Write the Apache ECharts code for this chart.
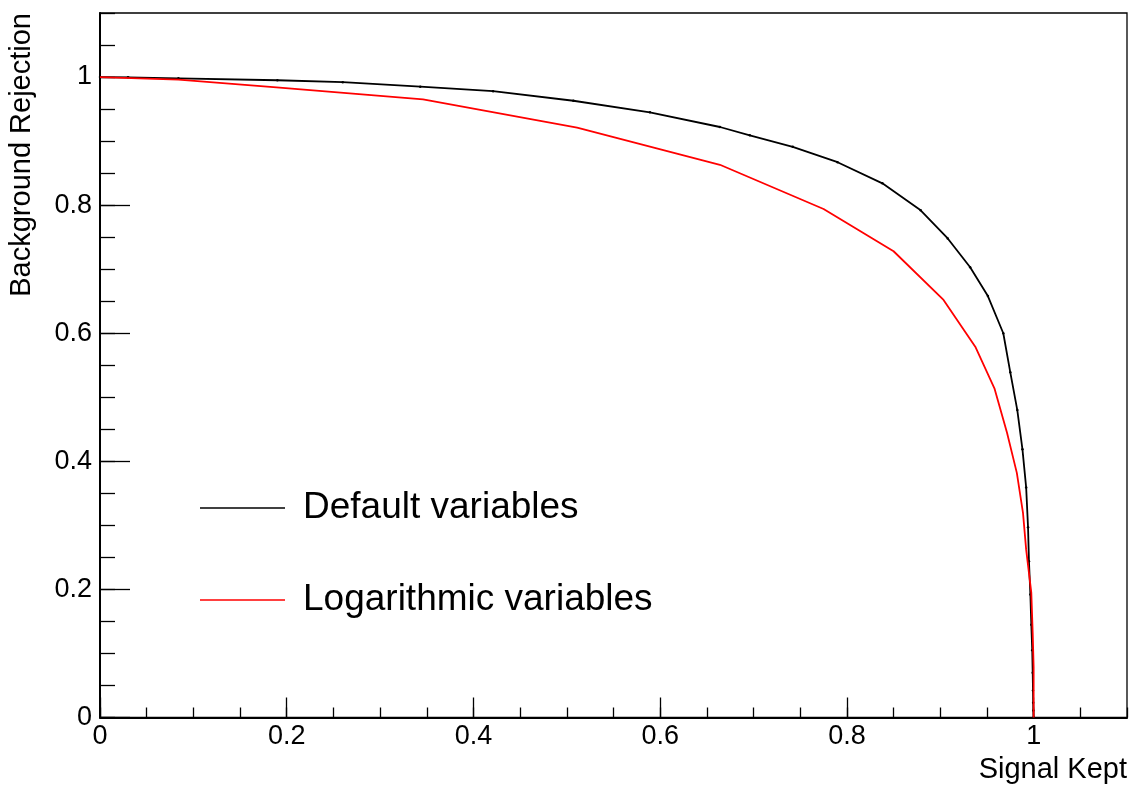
<!DOCTYPE html>
<html>
<head>
<meta charset="utf-8">
<title>Background Rejection vs Signal Kept</title>
<script src="https://cdn.jsdelivr.net/npm/echarts@6/dist/echarts.min.js"></script>
<style>
  html, body { margin: 0; padding: 0; background: #ffffff; }
  #chart { width: 1137px; height: 785px; }
</style>
</head>
<body>
<div id="chart"></div>
<script>
// ROC-style curves: fraction of signal kept vs fraction of background rejected
const seriesNames = ['Default variables', 'Logarithmic variables'];

const defaultSignal = [0, 0.03, 0.084, 0.19, 0.26, 0.343, 0.421, 0.507, 0.589, 0.664, 0.696, 0.742, 0.790, 0.838, 0.879, 0.908, 0.932, 0.951, 0.9675, 0.975, 0.9825, 0.988, 0.992, 0.994, 0.995, 0.9965, 0.9975, 0.9985, 0.999, 0.9993, 0.9995, 0.9997, 1.0];
const defaultRejection = [1.0, 0.9995, 0.998, 0.995, 0.992, 0.985, 0.978, 0.963, 0.945, 0.922, 0.909, 0.891, 0.867, 0.834, 0.792, 0.748, 0.703, 0.658, 0.600, 0.539, 0.480, 0.419, 0.359, 0.297, 0.244, 0.192, 0.145, 0.105, 0.070, 0.042, 0.023, 0.011, 0];

const logSignal = [0, 0.084, 0.189, 0.346, 0.511, 0.664, 0.775, 0.850, 0.9035, 0.9375, 0.958, 0.9715, 0.982, 0.9886, 0.992, 0.9975, 0.999, 1.0, 1.0];
const logRejection = [1.0, 0.996, 0.984, 0.965, 0.921, 0.863, 0.794, 0.728, 0.652, 0.579, 0.514, 0.4445, 0.382, 0.3195, 0.262, 0.195, 0.132, 0.079, 0];

const xTitle = 'Signal Kept';
const yTitle = 'Background Rejection';

const axisMin = 0;
const axisMax = 1.1;
const majorStep = 0.2;
const minorStep = 0.05;

const pairs = (xs, ys) => xs.map((x, i) => [x, ys[i]]);

const labelFont = { fontFamily: 'Liberation Sans, Arial, sans-serif', fontSize: 27, color: '#000' };
const titleFont = { fontFamily: 'Liberation Sans, Arial, sans-serif', fontSize: 29, color: '#000' };

const chart = echarts.init(document.getElementById('chart'), null, { renderer: 'canvas' });

const grid = { left: 100, right: 10, top: 13, bottom: 67.5, show: true, borderColor: '#000', borderWidth: 1.3, backgroundColor: 'transparent' };

chart.setOption({
  animation: false,
  backgroundColor: '#ffffff',
  grid: grid,
  legend: {
    orient: 'vertical',
    left: 200,
    top: 488,
    padding: 0,
    itemWidth: 85,
    itemHeight: 1.6,
    itemGap: 52,
    icon: 'rect',
    selectedMode: false,
    data: seriesNames,
    textStyle: {
      fontFamily: 'Liberation Sans, Arial, sans-serif',
      fontSize: 37,
      color: '#000',
      lineHeight: 40,
      padding: [0, 0, 0, 13]
    }
  },
  xAxis: [
    {
      type: 'value', position: 'bottom', min: axisMin, max: axisMax, interval: majorStep,
      name: xTitle, nameLocation: 'end', nameGap: 0,
      nameTextStyle: Object.assign({ align: 'right', verticalAlign: 'top', padding: [38, 0, 0, 0] }, titleFont),
      axisLine: { show: true, onZero: false, lineStyle: { color: '#000', width: 2 } },
      axisTick: { show: true, inside: true, length: 20, lineStyle: { color: '#000', width: 1.3 } },
      axisLabel: Object.assign({ margin: 6, showMaxLabel: false, formatter: v => String(Math.round(v * 10) / 10) }, labelFont),
      splitLine: { show: false }
    },
    {
      type: 'value', position: 'bottom', min: axisMin, max: axisMax, interval: minorStep,
      axisLine: { show: false },
      axisTick: { show: true, inside: true, length: 10, lineStyle: { color: '#000', width: 1.3 } },
      axisLabel: { show: false },
      splitLine: { show: false }
    }
  ],
  yAxis: [
    {
      type: 'value', position: 'left', min: axisMin, max: axisMax, interval: majorStep,
      name: yTitle, nameLocation: 'end', nameGap: 0, nameRotate: 90,
      nameTextStyle: Object.assign({ align: 'right', verticalAlign: 'bottom', padding: [0, 0, 64, 0] }, titleFont),
      axisLine: { show: true, onZero: false, lineStyle: { color: '#000', width: 2 } },
      axisTick: { show: true, inside: true, length: 30, lineStyle: { color: '#000', width: 1.3 } },
      axisLabel: Object.assign({ margin: 8, showMaxLabel: false, formatter: v => String(Math.round(v * 10) / 10) }, labelFont),
      splitLine: { show: false }
    },
    {
      type: 'value', position: 'left', min: axisMin, max: axisMax, interval: minorStep,
      axisLine: { show: false },
      axisTick: { show: true, inside: true, length: 15, lineStyle: { color: '#000', width: 1.3 } },
      axisLabel: { show: false },
      splitLine: { show: false }
    }
  ],
  series: [
    {
      name: seriesNames[0],
      type: 'line',
      xAxisIndex: 0, yAxisIndex: 0,
      data: pairs(defaultSignal, defaultRejection),
      symbol: 'circle',
      symbolSize: 2.5,
      showSymbol: true,
      itemStyle: { color: '#000' },
      lineStyle: { color: '#000', width: 1.8 },
      z: 3
    },
    {
      name: seriesNames[1],
      type: 'line',
      xAxisIndex: 0, yAxisIndex: 0,
      data: pairs(logSignal, logRejection),
      symbol: 'none',
      itemStyle: { color: '#ff0000' },
      lineStyle: { color: '#ff0000', width: 1.8 },
      z: 4
    }
  ]
});
</script>
</body>
</html>
